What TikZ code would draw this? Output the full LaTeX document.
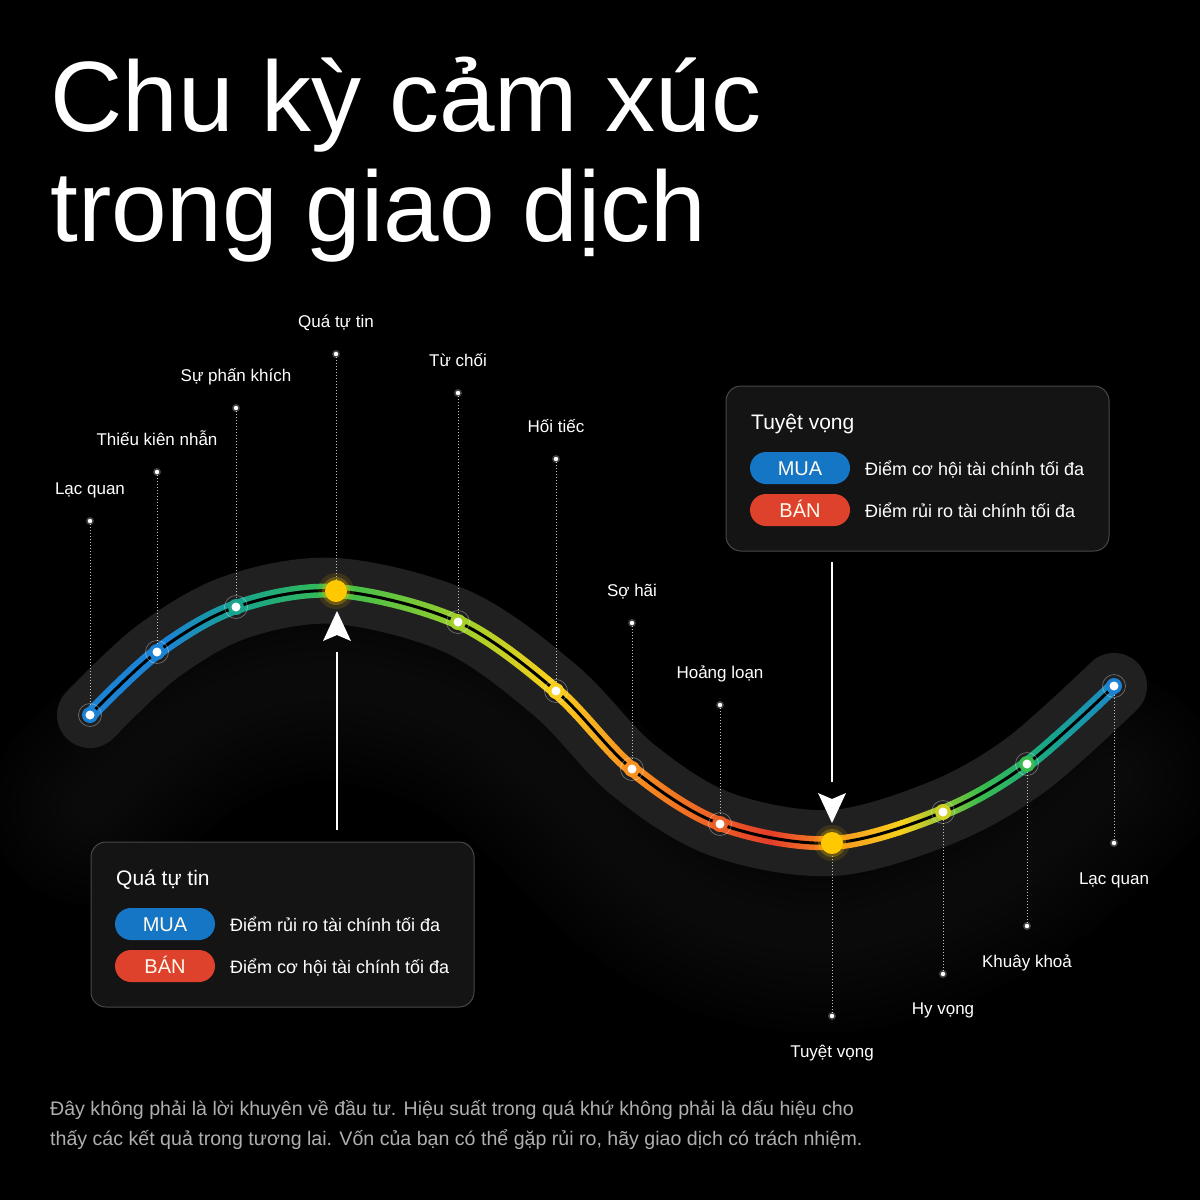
\documentclass[tikz,border=0pt]{standalone}
\usepackage{fontspec}
\setmainfont{Liberation Sans}
\usetikzlibrary{positioning}

\definecolor{cBlue}{RGB}{28,130,212}
\definecolor{cTeal}{RGB}{24,165,140}
\definecolor{cGreen}{RGB}{56,188,78}
\definecolor{cLime}{RGB}{165,208,40}
\definecolor{cYellow}{RGB}{248,208,28}
\definecolor{cOrange}{RGB}{247,145,32}
\definecolor{cRed}{RGB}{228,62,42}
\definecolor{cGold}{RGB}{255,200,0}
\definecolor{cBand}{RGB}{32,32,32}
\definecolor{cBox}{RGB}{20,20,20}
\definecolor{cEdge}{RGB}{72,72,72}
\definecolor{cFoot}{RGB}{175,175,175}
\definecolor{cPillBlue}{RGB}{22,118,198}
\definecolor{cPillRed}{RGB}{222,66,44}

\tikzset{
  wavepath/.style={insert path={plot[smooth,tension=0.55] coordinates
    {(p1) (p2) (p3) (p4) (p5) (p6) (p7) (p8) (p9) (p10) (p11) (p12)}}},
  band/.style={draw=cBand, line width=66pt, line cap=round},
  stripe/.style={line width=14pt, line cap=round},
  moodtext/.style={text=white, inner sep=0pt, anchor=base, font=\fontsize{17}{19}\selectfont},
  guide/.style={draw=white!75!black, line width=0.8pt, dash pattern=on 1pt off 2pt},
  infobox/.style={draw=cEdge, fill=cBox, line width=1pt, rounded corners=15pt},
  boxtitle/.style={text=white, inner sep=0pt, anchor=base west, font=\fontsize{21}{24}\selectfont},
  pill/.style={text=white!92!cYellow, minimum width=100pt, minimum height=32pt, inner sep=0pt,
    rounded corners=16pt, text height=14pt, text depth=0pt, font=\fontsize{20}{22}\selectfont},
  pilltext/.style={text=white, inner sep=0pt, anchor=base west, font=\fontsize{18}{20}\selectfont},
  pointer/.style={draw=white, line width=2pt},
  headline/.style={text=white, inner sep=0pt, anchor=base west, font=\fontsize{100}{110}\selectfont},
  foot/.style={text=cFoot, inner sep=0pt, anchor=base west, font=\fontsize{19.6}{22}\selectfont}
}

\begin{document}
\begin{tikzpicture}[x=1pt, y=-1pt]
\useasboundingbox[fill=black] (0,0) rectangle (1200,1200);

% title
\node[headline] (title1) at (50,131) {Chu kỳ cảm xúc};
\node[headline] (title2) at (50,241) {trong giao dịch};

% points on the wave, label dots and labels
\foreach \i/\px/\py/\dy/\ly/\txt in {
  1/90/715/521/494/Lạc quan,
  2/157/652/472/445/Thiếu kiên nhẫn,
  3/236/607/408/381/Sự phấn khích,
  4/336/591/354/327/Quá tự tin,
  5/458/622/393/366/Từ chối,
  6/556/691/459/432/Hối tiếc,
  7/632/769/623/596/Sợ hãi,
  8/720/824/705/678/Hoảng loạn,
  9/832/843/1016/1057/Tuyệt vọng,
  10/943/812/974/1014/Hy vọng,
  11/1027/764/926/967/Khuây khoả,
  12/1114/686/843/884/Lạc quan}{
  \coordinate (p\i) at (\px,\py);
  \coordinate (d\i) at (\px,\dy);
  \node[moodtext] (l\i) at (\px,\ly) {\txt};
}

% soft shadow under the wave
\begin{scope}[transform canvas={yshift=-90pt}]
  \foreach \w in {40,60,...,200}
    \draw[white, opacity=0.006, line width=\w pt, line cap=round, wavepath];
\end{scope}

% dark band
\draw[band, wavepath];

% coloured double line, one thin vertical strip at a time
\foreach \xa/\xb/\ca/\cb in {
  80/165/cBlue/cBlue, 165/240/cBlue/cTeal, 240/336/cTeal/cGreen,
  336/470/cGreen/cLime, 470/550/cLime/cYellow, 550/630/cYellow/cOrange,
  630/770/cOrange/cRed, 770/832/cRed/cOrange, 832/900/cOrange/cYellow,
  900/980/cYellow/cGreen, 980/1050/cGreen/cTeal, 1050/1126/cTeal/cBlue}{
  \pgfmathsetmacro\xn{\xa+3}
  \foreach \x in {\xa,\xn,...,\xb}{
    \pgfmathsetmacro\pc{100*(\xb-\x)/(\xb-\xa)}
    \begin{scope}
      \clip (\x-0.2,540) rectangle (\x+3.2,880);
      \draw[stripe, draw=\ca!\pc!\cb, wavepath];
    \end{scope}
  }
}
\draw[black, line width=3pt, line cap=round, wavepath];

% dotted guides
\foreach \i in {1,...,12}
  \draw[guide] (d\i) -- (p\i);

% markers
\foreach \i/\c in {1/cBlue, 2/cBlue, 3/cTeal, 5/cLime, 6/cYellow, 7/cOrange,
  8/cRed!60!cOrange, 10/cYellow!50!cLime, 11/cGreen, 12/cBlue}{
  \fill[\c] (p\i) circle (8pt);
  \draw[white, opacity=0.35, line width=0.7pt] (p\i) circle (11.5pt);
  \fill[white] (p\i) circle (4.5pt);
}
\foreach \i in {4,9}{
  \fill[cGold, opacity=0.12] (p\i) circle (18pt);
  \fill[cGold, opacity=0.25] (p\i) circle (14pt);
  \fill[cGold] (p\i) circle (11pt);
}

% label dots
\foreach \i in {1,...,12}{
  \fill[white, opacity=0.25] (d\i) circle (4pt);
  \fill[white] (d\i) circle (2.2pt);
}

% arrows
\coordinate (qa) at (337,830);
\coordinate (qb) at (337,652);
\coordinate (qt) at (337,611);
\draw[pointer] (qa) -- (qb);
\fill[white] (qt) -- ++(14,30) -- ++(-14,-6) -- ++(-14,6) -- cycle;

\coordinate (ta) at (832,562);
\coordinate (tb) at (832,782);
\coordinate (tt) at (832,823);
\draw[pointer] (ta) -- (tb);
\fill[white] (tt) -- ++(14,-30) -- ++(-14,6) -- ++(-14,-6) -- cycle;

% box: Tuyet vong
\draw[infobox] (726,386) rectangle (1109,551);
\node[boxtitle] (tvTitle) at (751,429) {Tuyệt vọng};
\node[pill, fill=cPillBlue] (tvBuy) at (800,468) {MUA};
\node[pill, fill=cPillRed] (tvSell) at (800,510) {BÁN};
\node[pilltext] (tvBuyTxt) at (865,475) {Điểm cơ hội tài chính tối đa};
\node[pilltext] (tvSellTxt) at (865,517) {Điểm rủi ro tài chính tối đa};

% box: Qua tu tin
\draw[infobox] (91,842) rectangle (474,1007);
\node[boxtitle] (qtTitle) at (116,885) {Quá tự tin};
\node[pill, fill=cPillBlue] (qtBuy) at (165,924) {MUA};
\node[pill, fill=cPillRed] (qtSell) at (165,966) {BÁN};
\node[pilltext] (qtBuyTxt) at (230,931) {Điểm rủi ro tài chính tối đa};
\node[pilltext] (qtSellTxt) at (230,973) {Điểm cơ hội tài chính tối đa};

% footer
\node[foot] (foot1) at (50,1115) {Đây không phải là lời khuyên về đầu tư. Hiệu suất trong quá khứ không phải là dấu hiệu cho};
\node[foot] (foot2) at (50,1145) {thấy các kết quả trong tương lai. Vốn của bạn có thể gặp rủi ro, hãy giao dịch có trách nhiệm.};
\end{tikzpicture}
\end{document}
